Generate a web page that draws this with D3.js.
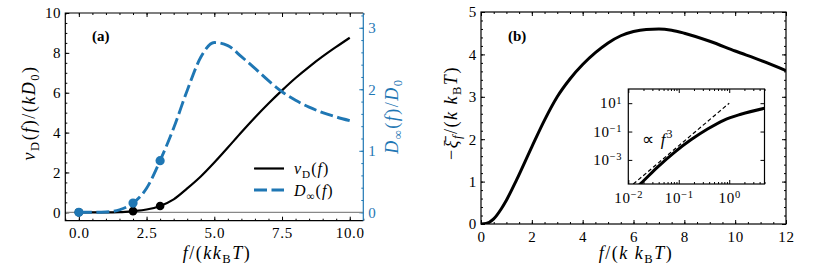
<!DOCTYPE html>
<html>
<head>
<meta charset="utf-8">
<script src="https://cdn.jsdelivr.net/npm/d3@7"></script>
<style>
body { margin: 0; background: #fff; }
</style>
</head>
<body>
<svg width="831" height="278"></svg>
<script>
// panel (a): drift velocity and diffusion coefficient vs force
var forceA = [0, 0.5, 1, 1.5, 2, 2.5, 3, 3.5, 4, 4.5, 5, 5.5, 6, 6.5, 7, 7.5, 8, 8.5, 9, 9.5, 10];
var driftV = [0, 0, 0, 0.01, 0.06, 0.14, 0.32, 0.65, 1.2, 1.8, 2.5, 3.25, 4.02, 4.76, 5.46, 6.12, 6.74, 7.3, 7.82, 8.3, 8.76];
var diffD = [0, 0, 0.005, 0.04, 0.15, 0.39, 0.84, 1.37, 1.98, 2.52, 2.76, 2.71, 2.53, 2.34, 2.14, 1.96, 1.82, 1.71, 1.62, 1.55, 1.49];
var markF = [0, 2, 3];
var markV = [0, 0.06, 0.32];
var markD = [0, 0.15, 0.84];

// panel (b): mean entropy production
var forceB = [0, 0.2, 0.5, 0.8, 1, 1.4, 2, 2.5, 3, 3.5, 4, 4.5, 5, 5.5, 6, 6.5, 7, 7.5, 8, 9, 10, 11, 12];
var xiB = [0, 0.01, 0.12, 0.36, 0.56, 1.04, 1.82, 2.45, 3.0, 3.42, 3.76, 4.04, 4.27, 4.44, 4.54, 4.59, 4.6, 4.57, 4.5, 4.31, 4.08, 3.86, 3.62];

// inset (log-log)
var insetF = [0.0126, 0.0178, 0.038, 0.081, 0.174, 0.372, 0.794, 1.7, 5];
var insetXi = [7e-6, 2.2e-5, 3.1e-4, 3.3e-3, 0.026, 0.15, 0.65, 1.66, 4.4];
var guideF = [0.01, 1];
var guideXi = [1e-5, 10];

// tick labels
var ticksAx = [0, 2.5, 5, 7.5, 10];
var ticksAyL = [0, 2, 4, 6, 8, 10];
var ticksAyR = [0, 1, 2, 3];
var ticksBx = [0, 2, 4, 6, 8, 10, 12];
var ticksBy = [0, 1, 2, 3, 4, 5];
var ticksIx = [0.01, 0.1, 1];
var ticksIy = [1e-3, 1e-1, 10];

var serif = "Liberation Serif";
var svg = d3.select("svg").attr("font-family", serif);
var blue = "#1f77b4";
var none = function () { return ""; };

function addTicks(parent, gen, scale, at, vals, size, color, fmt, pad) {
  var g = parent.append("g")
    .attr("transform", at)
    .call(gen(scale).tickValues(vals).tickSize(size).tickPadding(pad || 4).tickFormat(fmt || none));
  g.select(".domain").remove();
  g.attr("font-family", serif).attr("font-size", 15);
  g.selectAll("line").attr("stroke", color).attr("stroke-width", 1);
  g.selectAll("text").attr("fill", color).style("letter-spacing", "0.7px");
  return g;
}

// text with italic parts and sub/superscripts: [text, italic, shift(1 sub, -1 sup)]
function mathText(el, parts, size) {
  var cur = 0;
  el.attr("font-family", serif);
  parts.forEach(function (p) {
    var target = p[2] === 1 ? size * 0.22 : (p[2] === -1 ? -size * 0.42 : 0);
    el.append("tspan")
      .attr("dy", target - cur)
      .attr("font-style", p[1] ? "italic" : "normal")
      .attr("font-size", p[2] ? size * 0.7 : size)
      .text(p[0]);
    cur = target;
  });
  return el;
}

var defs = svg.append("defs");

// ---------- panel (a) ----------
var aL = 65.3, aR = 363.3, aT = 13, aB = 220.7;
var xA = d3.scaleLinear().domain([-0.5, 10.5]).range([aL, aR]);
var yL = d3.scaleLinear().domain([-0.42, 10]).range([aB, aT]);
var yR = d3.scaleLinear().domain([-0.1365, 3.24]).range([aB, aT]);

defs.append("clipPath").attr("id", "clipA")
  .append("rect").attr("x", aL).attr("y", aT).attr("width", aR - aL).attr("height", aB - aT);

var gA = svg.append("g");
var minAx = d3.range(-0.5, 10.51, 0.5);
addTicks(gA, d3.axisBottom, xA, "translate(0," + aB + ")", minAx, -2, "#000");
addTicks(gA, d3.axisBottom, xA, "translate(0," + aB + ")", ticksAx, -4, "#000", d3.format(".1f"), 7);
addTicks(gA, d3.axisTop, xA, "translate(0," + aT + ")", minAx, -2, "#000");
addTicks(gA, d3.axisTop, xA, "translate(0," + aT + ")", ticksAx, -4, "#000");
addTicks(gA, d3.axisLeft, yL, "translate(" + aL + ",0)", d3.range(0, 10.01, 0.5), -2, "#000");
addTicks(gA, d3.axisLeft, yL, "translate(" + aL + ",0)", ticksAyL, -4, "#000", d3.format("d"), 4);
addTicks(gA, d3.axisRight, yR, "translate(" + aR + ",0)", d3.range(0, 3.21, 0.2), -2, blue);
addTicks(gA, d3.axisRight, yR, "translate(" + aR + ",0)", ticksAyR, -4, blue, d3.format("d"), 5);

var plotA = gA.append("g").attr("clip-path", "url(#clipA)");
plotA.append("line")
  .attr("x1", xA(-0.5)).attr("x2", xA(10.5))
  .attr("y1", yL(0)).attr("y2", yL(0))
  .attr("stroke", "#888").attr("stroke-width", 1.1);

var idxA = d3.range(forceA.length);
plotA.append("path")
  .datum(idxA)
  .attr("fill", "none").attr("stroke", "#000").attr("stroke-width", 2.2)
  .attr("d", d3.line().curve(d3.curveMonotoneX)
    .x(function (i) { return xA(forceA[i]); })
    .y(function (i) { return yL(driftV[i]); }));
plotA.selectAll(".mv").data(d3.range(markF.length)).enter().append("circle")
  .attr("cx", function (i) { return xA(markF[i]); })
  .attr("cy", function (i) { return yL(markV[i]); })
  .attr("r", 4.3).attr("fill", "#000");

plotA.append("path")
  .datum(idxA)
  .attr("fill", "none").attr("stroke", blue).attr("stroke-width", 2.9)
  .attr("stroke-dasharray", "13,4.5")
  .attr("d", d3.line().curve(d3.curveMonotoneX)
    .x(function (i) { return xA(forceA[i]); })
    .y(function (i) { return yR(diffD[i]); }));
plotA.selectAll(".md").data(d3.range(markF.length)).enter().append("circle")
  .attr("cx", function (i) { return xA(markF[i]); })
  .attr("cy", function (i) { return yR(markD[i]); })
  .attr("r", 4.6).attr("fill", blue);

// frame
gA.append("path")
  .attr("d", "M" + aR + "," + aT + "H" + aL + "V" + aB + "H" + aR)
  .attr("fill", "none").attr("stroke", "#000").attr("stroke-width", 1.2);
gA.append("line")
  .attr("x1", aR).attr("x2", aR).attr("y1", aT).attr("y2", aB)
  .attr("stroke", blue).attr("stroke-width", 1.2);

// legend
var legA = gA.append("g");
legA.append("line").attr("x1", 254).attr("x2", 284).attr("y1", 168.5).attr("y2", 168.5)
  .attr("stroke", "#000").attr("stroke-width", 2.2);
legA.append("line").attr("x1", 254).attr("x2", 284).attr("y1", 190).attr("y2", 190)
  .attr("stroke", blue).attr("stroke-width", 2.9).attr("stroke-dasharray", "13,4.5");
mathText(legA.append("text").attr("x", 294).attr("y", 174).style("letter-spacing", "1px"),
  [["v", 1, 0], ["D", 0, 1], ["(", 0, 0], ["f", 1, 0], [")", 0, 0]], 16);
mathText(legA.append("text").attr("x", 294).attr("y", 196).style("letter-spacing", "1px"),
  [["D", 1, 0], ["∞", 0, 1], ["(", 0, 0], ["f", 1, 0], [")", 0, 0]], 16);

gA.append("text").attr("x", 92).attr("y", 41).attr("font-family", serif)
  .attr("font-size", 15).attr("font-weight", "bold").text("(a)");

// axis labels
mathText(svg.append("text").attr("text-anchor", "middle")
  .attr("transform", "translate(217,259)").style("letter-spacing", "1.5px"),
  [["f", 1, 0], ["/(", 0, 0], ["kk", 1, 0], ["B", 0, 1], ["T", 1, 0], [")", 0, 0]], 18);
mathText(svg.append("text").attr("text-anchor", "middle")
  .attr("transform", "translate(35,113) rotate(-90)").style("letter-spacing", "1.5px"),
  [["v", 1, 0], ["D", 0, 1], ["(", 0, 0], ["f", 1, 0], [")/(", 0, 0], ["kD", 1, 0], ["0", 0, 1], [")", 0, 0]], 18);
mathText(svg.append("text").attr("text-anchor", "middle").attr("fill", blue)
  .attr("transform", "translate(398,116) rotate(-90)").style("letter-spacing", "1.5px"),
  [["D", 1, 0], ["∞", 0, 1], ["(", 0, 0], ["f", 1, 0], [")/", 0, 0], ["D", 1, 0], ["0", 0, 1]], 18);

// ---------- panel (b) ----------
var bL = 481, bR = 786, bT = 12, bB = 224;
var xB = d3.scaleLinear().domain([0, 12]).range([bL, bR]);
var yB = d3.scaleLinear().domain([0, 5]).range([bB, bT]);

defs.append("clipPath").attr("id", "clipB")
  .append("rect").attr("x", bL).attr("y", bT).attr("width", bR - bL).attr("height", bB - bT);

var gB = svg.append("g");
var minBx = d3.range(0, 12.01, 0.5);
var minBy = d3.range(0, 5.01, 0.2);
addTicks(gB, d3.axisBottom, xB, "translate(0," + bB + ")", minBx, -2, "#000");
addTicks(gB, d3.axisBottom, xB, "translate(0," + bB + ")", ticksBx, -4, "#000", d3.format("d"), 7);
addTicks(gB, d3.axisTop, xB, "translate(0," + bT + ")", minBx, -2, "#000");
addTicks(gB, d3.axisTop, xB, "translate(0," + bT + ")", ticksBx, -4, "#000");
addTicks(gB, d3.axisLeft, yB, "translate(" + bL + ",0)", minBy, -2, "#000");
addTicks(gB, d3.axisLeft, yB, "translate(" + bL + ",0)", ticksBy, -4, "#000", d3.format("d"), 4);
addTicks(gB, d3.axisRight, yB, "translate(" + bR + ",0)", minBy, -2, "#000");
addTicks(gB, d3.axisRight, yB, "translate(" + bR + ",0)", ticksBy, -4, "#000");

gB.append("g").attr("clip-path", "url(#clipB)")
  .append("path")
  .datum(d3.range(forceB.length))
  .attr("fill", "none").attr("stroke", "#000").attr("stroke-width", 3)
  .attr("d", d3.line().curve(d3.curveMonotoneX)
    .x(function (i) { return xB(forceB[i]); })
    .y(function (i) { return yB(xiB[i]); }));

gB.append("rect").attr("x", bL).attr("y", bT).attr("width", bR - bL).attr("height", bB - bT)
  .attr("fill", "none").attr("stroke", "#000").attr("stroke-width", 1.2);

gB.append("text").attr("x", 508).attr("y", 41).attr("font-family", serif)
  .attr("font-size", 15).attr("font-weight", "bold").text("(b)");

mathText(svg.append("text").attr("text-anchor", "middle")
  .attr("transform", "translate(636,259)").style("letter-spacing", "1.5px"),
  [["f", 1, 0], ["/(", 0, 0], ["k k", 1, 0], ["B", 0, 1], ["T", 1, 0], [")", 0, 0]], 18);
mathText(svg.append("text").attr("text-anchor", "middle")
  .attr("transform", "translate(457,113) rotate(-90)").style("letter-spacing", "1.5px"),
  [["−", 0, 0], ["ξ\u0304", 1, 0], ["f", 1, 1], ["/(", 0, 0], ["k k", 1, 0], ["B", 0, 1], ["T", 1, 0], [")", 0, 0]], 18);

// ---------- inset ----------
var iL = 628.3, iR = 764.5, iT = 89, iB = 184;
var xI = d3.scaleLog().domain([0.01, 5]).range([iL, iR]);
var yI = d3.scaleLog().domain([Math.pow(10, -4.7), 100]).range([iB, iT]);

defs.append("clipPath").attr("id", "clipI")
  .append("rect").attr("x", iL).attr("y", iT).attr("width", iR - iL).attr("height", iB - iT);

var gI = svg.append("g");
gI.append("rect").attr("x", iL).attr("y", iT).attr("width", iR - iL).attr("height", iB - iT)
  .attr("fill", "#fff");

function powLabel(sel) {
  sel.selectAll("text").each(function (d) {
    var e = Math.round(Math.log10(d));
    var t = d3.select(this).text("10");
    t.append("tspan").attr("dy", "-0.45em").attr("font-size", 10.5)
      .text(e < 0 ? "\u2212" + (-e) : String(e));
  });
}

var minIx = xI.ticks().filter(function (v) { return ticksIx.indexOf(v) < 0; });
addTicks(gI, d3.axisBottom, xI, "translate(0," + iB + ")", minIx, -2, "#000");
powLabel(addTicks(gI, d3.axisBottom, xI, "translate(0," + iB + ")", ticksIx, -4, "#000", String, 8));
addTicks(gI, d3.axisTop, xI, "translate(0," + iT + ")", minIx, -2, "#000");
addTicks(gI, d3.axisTop, xI, "translate(0," + iT + ")", ticksIx, -4, "#000");
powLabel(addTicks(gI, d3.axisLeft, yI, "translate(" + iL + ",0)", ticksIy, -4, "#000", String, 6));
addTicks(gI, d3.axisRight, yI, "translate(" + iR + ",0)", ticksIy, -4, "#000");

var plotI = gI.append("g").attr("clip-path", "url(#clipI)");
plotI.append("path")
  .datum(d3.range(guideF.length))
  .attr("fill", "none").attr("stroke", "#000").attr("stroke-width", 1.2)
  .attr("stroke-dasharray", "4,2.5")
  .attr("d", d3.line()
    .x(function (i) { return xI(guideF[i]); })
    .y(function (i) { return yI(guideXi[i]); }));
plotI.append("path")
  .datum(d3.range(insetF.length))
  .attr("fill", "none").attr("stroke", "#000").attr("stroke-width", 3)
  .attr("d", d3.line().curve(d3.curveMonotoneX)
    .x(function (i) { return xI(insetF[i]); })
    .y(function (i) { return yI(insetXi[i]); }));

gI.append("rect").attr("x", iL).attr("y", iT).attr("width", iR - iL).attr("height", iB - iT)
  .attr("fill", "none").attr("stroke", "#000").attr("stroke-width", 1.2);

mathText(gI.append("text").attr("x", 642).attr("y", 145).style("letter-spacing", "1.2px"),
  [["\u221d ", 0, 0], ["f", 1, 0], ["3", 0, -1]], 17);
</script>
</body>
</html>
